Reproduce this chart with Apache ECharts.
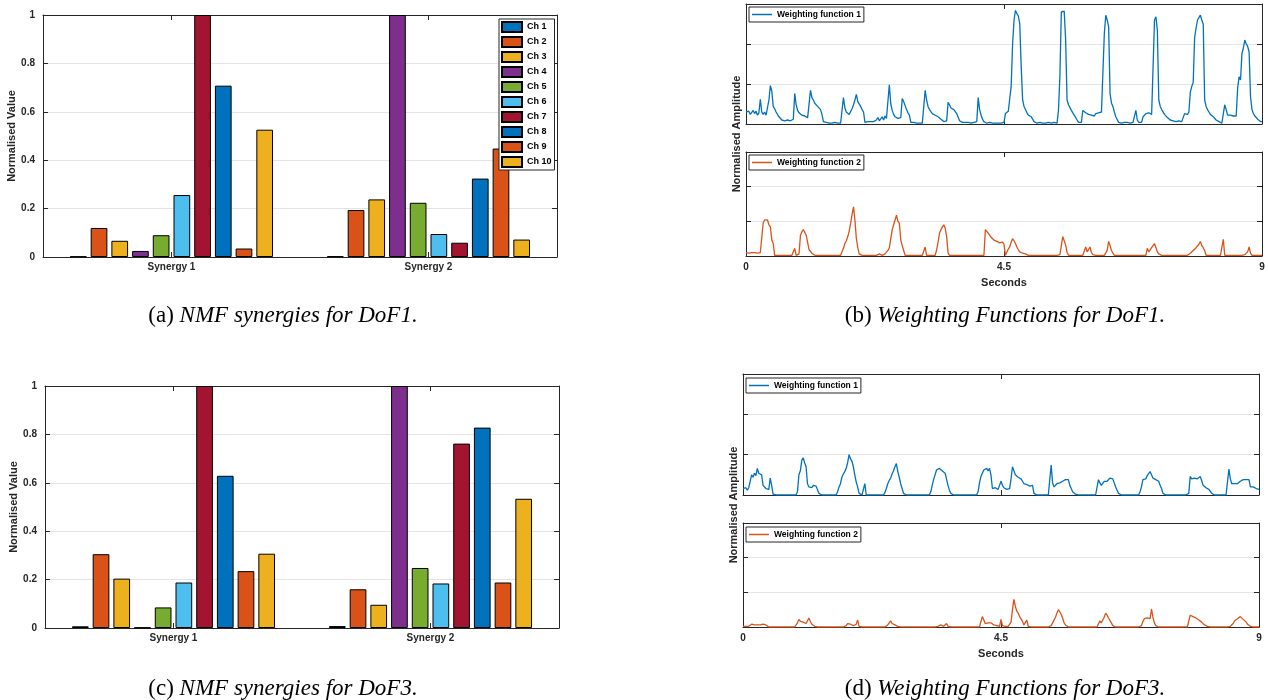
<!DOCTYPE html>
<html><head><meta charset="utf-8">
<script src="https://cdn.jsdelivr.net/npm/echarts@6/dist/echarts.min.js"></script>
<style>html,body{margin:0;padding:0;background:#fff}#c{width:1268px;height:700px}</style>
</head><body><div id="c"></div>
<script>
// ---------- data ----------
const synergyCats = ['Synergy 1', 'Synergy 2'];
const channelNames = ['Ch 1','Ch 2','Ch 3','Ch 4','Ch 5','Ch 6','Ch 7','Ch 8','Ch 9','Ch 10'];
// DoF1 synergies (value per channel)
const dof1Syn1 = [0.002, 0.120, 0.067, 0.025, 0.090, 0.256, 1.000, 0.708, 0.035, 0.526];
const dof1Syn2 = [0.003, 0.194, 0.238, 1.000, 0.224, 0.095, 0.059, 0.324, 0.448, 0.072];
// DoF3 synergies
const dof3Syn1 = [0.007, 0.305, 0.204, 0.002, 0.085, 0.188, 1.000, 0.629, 0.235, 0.307];
const dof3Syn2 = [0.008, 0.160, 0.096, 1.000, 0.248, 0.184, 0.762, 0.828, 0.188, 0.534];
const valueTicks = [0, 0.2, 0.4, 0.6, 0.8, 1];
const secondsTicks = [0, 4.5, 9];
const sampleStep = 0.025; // seconds between samples of the weighting functions (20 per row = 0.5 s)
// Weighting functions, DoF1
const dof1W1 = [
.15,.13,.16,.12,.14,.17,.13,.16,.11,.14,.31,.15,.12,.15,.11,.13,.30,.48,.41,.22,
.19,.15,.17,.09,.07,.05,.07,.04,.06,.05,.07,.04,.05,.06,.38,.24,.17,.14,.15,.11,
.12,.10,.11,.08,.10,.42,.33,.30,.26,.28,.22,.24,.18,.12,.03,.01,.02,.01,.01,.02,
.01,.01,.02,.01,.01,.02,.01,.01,.33,.20,.15,.13,.12,.14,.19,.24,.30,.37,.28,.27,
.22,.18,.15,.02,.02,.03,.02,.03,.02,.03,.02,.05,.08,.04,.06,.09,.05,.10,.07,.09,
.49,.25,.17,.12,.09,.08,.07,.06,.08,.32,.28,.26,.18,.14,.11,.02,.01,.02,.01,.01,
.01,.01,.02,.01,.01,.42,.30,.22,.18,.16,.13,.14,.11,.10,.09,.08,.06,.05,.03,.02,
.04,.27,.24,.20,.22,.18,.16,.13,.14,.04,.02,.02,.01,.02,.01,.02,.02,.01,.02,.02,
.02,.03,.33,.18,.11,.06,.03,.01,.01,.01,.02,.01,.01,.01,.01,.02,.01,.01,.01,.01,
.02,.13,.14,.16,.15,.47,1.00,1.30,1.42,1.38,1.35,1.25,.72,.30,.22,.18,.14,.11,.10,.09,
.06,.03,.02,.01,.01,.02,.01,.01,.01,.01,.01,.02,.01,.01,.01,.02,.01,.01,.17,.60,
1.40,1.38,1.41,1.05,.30,.24,.22,.17,.14,.11,.09,.05,.02,.01,.02,.17,.15,.14,.13,.12,
.13,.11,.12,.10,.13,.15,.14,.16,.15,.15,1.13,1.36,1.30,1.22,.38,.26,.22,.15,.09,.07,
.02,.02,.01,.02,.02,.01,.02,.02,.01,.02,.02,.02,.17,.05,.02,.03,.02,.09,.11,.13,
.15,.14,.13,.12,.14,1.30,1.34,1.17,.30,.22,.18,.16,.12,.10,.08,.07,.05,.05,.04,.04,
.03,.03,.04,.03,.03,.02,.13,.14,.12,.15,.40,.47,.52,1.08,1.20,1.30,1.33,1.36,1.30,1.25,
.30,.22,.18,.15,.12,.10,.09,.07,.05,.04,.03,.02,.01,.01,.24,.18,.11,.10,.11,.09,
.10,.09,.10,.45,.59,.55,.88,.95,1.05,1.00,.97,.90,.34,.18,.13,.10,.08,.06,.04,.03,
.03];
const dof1W2 = [
.05,.06,.04,.06,.05,.07,.05,.06,.04,.06,.05,.07,.48,.52,.50,.52,.45,.42,.23,.18,
.01,.01,.01,.01,.01,.01,.01,.01,.01,.01,.01,.01,.01,.01,.11,.01,.02,.03,.30,.35,
.38,.36,.30,.28,.09,.07,.04,.03,.01,.01,.01,.01,.01,.01,.01,.01,.01,.01,.01,.01,
.01,.01,.01,.01,.01,.01,.01,.01,.11,.18,.22,.28,.36,.47,.60,.71,.52,.25,.12,.03,
.01,.01,.01,.01,.01,.01,.01,.01,.01,.01,.01,.01,.01,.03,.02,.01,.02,.03,.01,.08,
.12,.25,.38,.45,.52,.59,.50,.47,.23,.15,.08,.01,.01,.01,.01,.01,.01,.01,.01,.01,
.01,.01,.01,.01,.01,.13,.01,.01,.01,.01,.01,.01,.01,.09,.20,.33,.38,.42,.45,.40,
.28,.04,.01,.01,.01,.01,.01,.01,.01,.01,.01,.01,.01,.01,.01,.01,.01,.01,.01,.01,
.01,.01,.01,.01,.01,.01,.01,.38,.36,.33,.30,.27,.25,.23,.22,.21,.20,.19,.18,.20,
.17,.01,.03,.10,.13,.20,.25,.22,.18,.13,.09,.06,.05,.04,.04,.03,.02,.01,.01,.01,
.01,.01,.01,.01,.01,.01,.01,.01,.01,.01,.01,.01,.01,.01,.01,.01,.01,.01,.01,.02,
.04,.28,.22,.16,.05,.01,.01,.01,.01,.01,.01,.01,.01,.01,.01,.01,.01,.13,.06,.05,
.13,.05,.02,.01,.01,.01,.01,.01,.01,.01,.01,.01,.08,.21,.15,.08,.04,.01,.01,.01,
.01,.01,.01,.01,.01,.01,.01,.01,.01,.01,.01,.01,.01,.01,.01,.01,.01,.01,.01,.01,
.11,.06,.09,.12,.14,.18,.12,.06,.03,.01,.01,.01,.01,.01,.01,.01,.01,.01,.01,.01,
.01,.01,.01,.01,.01,.01,.01,.01,.01,.01,.04,.06,.08,.10,.12,.14,.17,.21,.15,.12,
.08,.01,.01,.01,.01,.01,.01,.01,.01,.01,.01,.01,.01,.24,.01,.01,.01,.01,.01,.01,
.01,.01,.01,.01,.01,.01,.01,.01,.02,.04,.06,.13,.04,.01,.01,.01,.01,.01,.01,.01,
.01];
// Weighting functions, DoF3
const dof3W1 = [
.08,.07,.09,.06,.09,.08,.25,.22,.27,.24,.33,.27,.29,.25,.12,.10,.08,.09,.07,.21,
.12,.01,0,0,0,0,0,0,0,0,0,0,0,0,0,0,0,0,.04,.25,
.30,.43,.46,.40,.35,.14,.10,.12,.09,.12,.10,.11,.12,.02,0,0,0,0,0,0,
0,0,0,0,0,0,.04,.10,.14,.22,.26,.29,.33,.40,.50,.45,.42,.35,.25,.16,
.10,.02,0,0,0,.14,0,0,0,0,0,0,0,0,0,0,0,0,0,.03,
.08,.14,.18,.21,.26,.30,.35,.39,.29,.22,.14,.08,.02,0,0,0,0,0,0,0,
0,0,0,0,0,0,0,0,0,0,0,.04,.12,.19,.25,.31,.30,.33,.34,.30,
.29,.27,.20,.12,.06,.02,0,0,0,0,0,0,0,0,0,0,0,0,0,0,
0,0,0,0,.04,.15,.23,.27,.31,.29,.33,.30,.33,.25,.08,.10,.09,.10,.07,.06,
.17,.12,.09,.10,.07,.06,.08,.20,.35,.30,.25,.27,.22,.23,.20,.17,.14,.12,.13,.11,
.11,.10,.12,.02,0,0,0,0,0,0,0,0,0,0,0,.37,.15,.10,.12,.14,
.13,.15,.14,.17,.16,.19,.18,.19,.12,.10,.04,.02,.01,.01,0,0,0,0,0,0,
0,0,0,0,0,0,0,0,.19,.15,.12,.14,.17,.15,.17,.18,.21,.19,.20,.15,
.10,.06,.02,0,0,0,0,0,0,0,0,0,0,0,0,0,0,.04,.10,.19,
.17,.20,.24,.26,.29,.25,.21,.23,.19,.20,.17,.12,.08,.02,0,0,0,0,0,0,
0,0,0,0,0,0,0,0,0,0,0,.02,.23,.20,.22,.21,.23,.20,.22,.23,
.18,.12,.10,.09,.08,.07,.08,.02,0,0,0,0,0,0,0,0,0,0,.02,.32,
.20,.14,.13,.14,.12,.14,.15,.17,.16,.19,.18,.19,.17,.19,.10,.12,.10,.09,.08,.09,
.07];
const dof3W2 = [
.01,0,.01,.02,.01,.02,.04,.02,.03,.02,.03,.02,.03,.02,.04,.06,.03,.01,0,0,
0,0,0,0,0,0,0,0,0,0,0,0,0,0,0,0,0,.01,.06,.11,
.08,.09,.07,.06,.05,.09,.13,.08,.04,.02,.01,0,0,0,0,0,0,0,0,0,
0,0,0,0,0,0,0,0,0,0,0,0,.02,.05,.03,.04,.02,.02,.03,.04,
.10,.01,0,0,0,0,0,0,0,0,0,0,0,0,0,0,0,0,0,0,
.01,.03,.06,.09,.05,.04,.03,.02,.01,0,0,0,0,0,0,0,0,0,0,0,
0,0,0,0,0,0,0,0,0,0,0,0,0,0,0,0,.01,.02,.03,.01,
.01,.02,.05,.01,0,0,0,0,0,0,0,0,0,0,0,0,0,0,0,0,
0,0,0,0,0,0,.08,.15,.10,.05,.04,.06,.05,.06,.04,.03,.03,.02,.02,.01,
.11,.02,.01,.01,.02,.01,.03,.07,.25,.40,.30,.23,.20,.15,.13,.08,.03,.02,.10,.01,
0,0,0,0,0,0,0,0,0,0,0,0,0,0,0,.02,.06,.08,.14,.20,
.25,.22,.18,.13,.06,.03,.01,0,0,0,0,0,0,0,0,0,0,0,0,0,
0,0,0,0,0,0,0,0,.02,.09,.06,.10,.14,.20,.17,.13,.11,.06,.02,.01,
0,0,0,0,0,0,0,0,0,0,0,0,0,0,0,0,0,0,.02,.08,
.12,.10,.13,.11,.12,.26,.14,.06,.02,.01,0,0,0,0,0,0,0,0,0,0,
0,0,0,0,0,0,0,0,0,0,0,.01,.17,.16,.15,.14,.13,.11,.10,.09,
.07,.05,.03,.02,.01,0,0,0,0,0,0,0,0,0,0,0,0,0,0,0,
.01,.02,.05,.09,.10,.12,.13,.15,.13,.11,.09,.07,.04,.02,.01,.01,0,.01,0,0,
0];
const wfNames = ['Weighting function 1', 'Weighting function 2'];
const captions = [
  {label: '(a)', text: 'NMF synergies for DoF1.'},
  {label: '(b)', text: 'Weighting Functions for DoF1.'},
  {label: '(c)', text: 'NMF synergies for DoF3.'},
  {label: '(d)', text: 'Weighting Functions for DoF3.'}
];

// ---------- styling ----------
const FONT = '"Liberation Sans", Arial, Helvetica, sans-serif';
const SERIF = '"Liberation Serif", "Times New Roman", serif';
const AX = '#262626';
const GRIDC = '#e4e4e4';
const chColors = ['#0072BD','#D95319','#EDB120','#7E2F8E','#77AC30','#4DBEEE','#A2142F','#0072BD','#D95319','#EDB120'];
const wfColors = ['#0072BD', '#D95319'];

const grids = [
  {left: 43, top: 15, width: 514, height: 242},   // (a)
  {left: 45, top: 386, width: 514, height: 242},  // (c)
  {left: 746, top: 4, width: 516, height: 120},   // (b) upper
  {left: 746, top: 152, width: 516, height: 104}, // (b) lower
  {left: 743, top: 374, width: 516, height: 121}, // (d) upper
  {left: 743, top: 523, width: 516, height: 104}  // (d) lower
];
const xAxes = [], yAxes = [];
const lblStyle = {color: AX, fontWeight: 'bold', fontSize: 10, fontFamily: FONT};
const axLine = {show: true, onZero: false, lineStyle: {color: AX, width: 1}};
const tick = {show: true, inside: true, length: 5, lineStyle: {color: AX}};
function addBarAxes(g) {
  xAxes.push({gridIndex: g, type: 'category', data: synergyCats, position: 'bottom',
    axisLine: axLine, axisTick: Object.assign({alignWithLabel: true}, tick),
    axisLabel: Object.assign({margin: 5}, lblStyle), splitLine: {show: false}});
  xAxes.push({gridIndex: g, type: 'category', data: synergyCats, position: 'top',
    axisLine: axLine, axisTick: Object.assign({alignWithLabel: true}, tick),
    axisLabel: {show: false}, splitLine: {show: false}});
  yAxes.push({gridIndex: g, type: 'value', min: valueTicks[0], max: valueTicks[valueTicks.length - 1],
    interval: valueTicks[1] - valueTicks[0], position: 'left',
    name: 'Normalised Value', nameLocation: 'middle', nameGap: 26,
    nameTextStyle: {color: AX, fontWeight: 'bold', fontSize: 11, fontFamily: FONT},
    axisLine: axLine, axisTick: tick,
    axisLabel: Object.assign({margin: 8}, lblStyle),
    splitLine: {show: true, lineStyle: {color: GRIDC, width: 1}}});
  yAxes.push({gridIndex: g, type: 'value', min: valueTicks[0], max: valueTicks[valueTicks.length - 1],
    interval: valueTicks[1] - valueTicks[0], position: 'right',
    axisLine: axLine, axisTick: tick,
    axisLabel: {show: false}, splitLine: {show: false}});
}
function addLineAxes(g, withLabels) {
  const common = {gridIndex: g, type: 'value', min: secondsTicks[0], max: secondsTicks[secondsTicks.length - 1],
    interval: secondsTicks[1] - secondsTicks[0]};
  xAxes.push(Object.assign({}, common, {position: 'bottom',
    axisLine: axLine, axisTick: tick,
    axisLabel: withLabels ? Object.assign({margin: 6}, lblStyle) : {show: false},
    name: withLabels ? 'Seconds' : '', nameLocation: 'middle', nameGap: 21,
    nameTextStyle: {color: AX, fontWeight: 'bold', fontSize: 11, fontFamily: FONT},
    splitLine: {show: false}}));
  xAxes.push(Object.assign({}, common, {position: 'top',
    axisLine: axLine, axisTick: tick,
    axisLabel: {show: false}, splitLine: {show: false}}));
  const yc = {gridIndex: g, type: 'value', min: 0, max: 1.5, interval: 0.5};
  yAxes.push(Object.assign({}, yc, {position: 'left',
    axisLine: axLine, axisTick: tick,
    axisLabel: {show: false}, splitLine: {show: true, lineStyle: {color: GRIDC, width: 1}}}));
  yAxes.push(Object.assign({}, yc, {position: 'right',
    axisLine: axLine, axisTick: tick,
    axisLabel: {show: false}, splitLine: {show: false}}));
}
addBarAxes(0); addBarAxes(1);
addLineAxes(2, false); addLineAxes(3, true); addLineAxes(4, false); addLineAxes(5, true);

const series = [];
const barSets = [[dof1Syn1, dof1Syn2], [dof3Syn1, dof3Syn2]];
barSets.forEach(function (set, g) {
  channelNames.forEach(function (nm, c) {
    series.push({type: 'bar', name: nm, xAxisIndex: 2 * g, yAxisIndex: 2 * g,
      data: [set[0][c], set[1][c]], barWidth: 16.7, barGap: '24%',
      itemStyle: {color: chColors[c], borderColor: '#000', borderWidth: 1}});
  });
});
const lineSets = [[dof1W1, 0, 2], [dof1W2, 1, 3], [dof3W1, 0, 4], [dof3W2, 1, 5]];
lineSets.forEach(function (ls) {
  series.push({type: 'line', name: wfNames[ls[1]], xAxisIndex: 2 * ls[2], yAxisIndex: 2 * ls[2],
    data: ls[0].map(function (v, i) { return [i * sampleStep, v]; }),
    symbol: 'none', showSymbol: false,
    lineStyle: {color: wfColors[ls[1]], width: 1.3}, itemStyle: {color: wfColors[ls[1]]}});
});

const legendBase = {orient: 'vertical', borderColor: AX, borderWidth: 1, backgroundColor: '#fff',
  selectedMode: false, textStyle: {color: '#000', fontWeight: 'bold', fontSize: 9, fontFamily: FONT}};
const legends = [
  Object.assign({}, legendBase, {data: channelNames, left: 499, top: 19, icon: 'rect', itemWidth: 20, itemHeight: 10,
    itemGap: 3, padding: [2, 3, 2, 2]}),
];
[[0, 749, 7], [1, 749, 155], [0, 746, 378], [1, 746, 527]].forEach(function (l) {
  legends.push(Object.assign({}, legendBase, {data: [wfNames[l[0]]], left: l[1], top: l[2], icon: 'rect',
    itemWidth: 20, itemHeight: 1.5, padding: [3, 3, 3, 3],
    textStyle: {color: '#000', fontWeight: 'bold', fontSize: 8.5, fontFamily: FONT}}));
});

const capPos = [[283, 316], [1005, 316], [283, 689], [1005, 689]];
const graphics = captions.map(function (c, i) {
  return {type: 'text', x: capPos[i][0], y: capPos[i][1], style: {
    text: '{n|' + c.label + ' }{i|' + c.text + '}', align: 'center', verticalAlign: 'middle', fill: '#000',
    rich: {n: {fontFamily: SERIF, fontSize: 23, fill: '#000'},
           i: {fontFamily: SERIF, fontSize: 23, fontStyle: 'italic', fill: '#000'}}}};
});
[[737, 134], [734, 505]].forEach(function (p) {
  graphics.push({type: 'text', x: p[0], y: p[1], rotation: Math.PI / 2, style: {
    text: 'Normalised Amplitude', align: 'center', verticalAlign: 'middle', fill: AX,
    font: 'bold 11px ' + FONT}});
});

const chart = echarts.init(document.getElementById('c'), null, {renderer: 'canvas'});
chart.setOption({
  animation: false,
  backgroundColor: '#fff',
  grid: grids,
  xAxis: xAxes,
  yAxis: yAxes,
  legend: legends,
  series: series,
  graphic: graphics
});
</script></body></html>
